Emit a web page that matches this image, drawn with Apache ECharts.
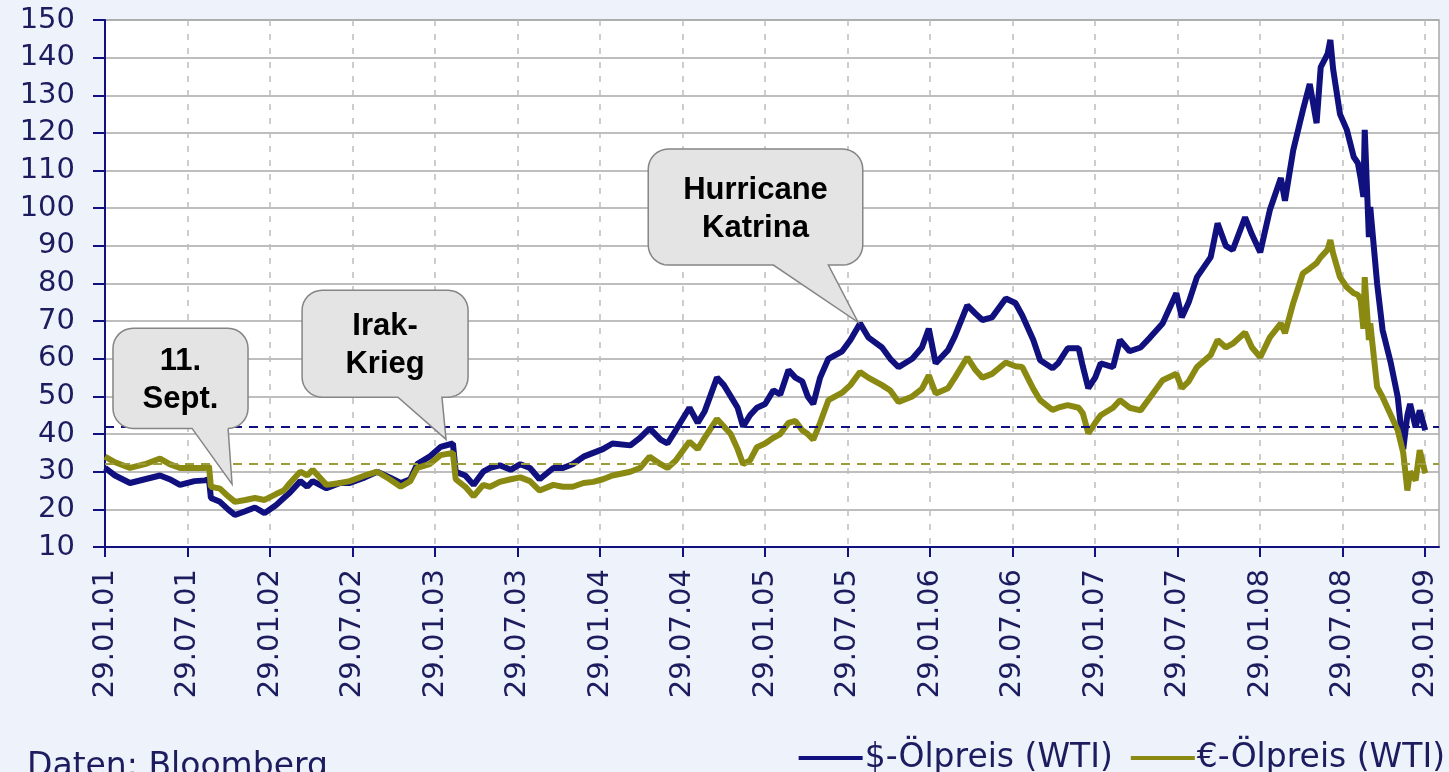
<!DOCTYPE html>
<html>
<head>
<meta charset="utf-8">
<title>Ölpreis WTI</title>
<script src="https://cdn.jsdelivr.net/npm/echarts@6/dist/echarts.min.js"></script>
<style>
  html, body { margin: 0; padding: 0; background: #eef2fa; }
  #chart { width: 1449px; height: 772px; }
</style>
</head>
<body>
<div id="chart"></div>
<script>
// x = Monate seit 29.01.2001
const monthIdx = [
  0, 0.73, 1.82, 2.9, 4.0, 4.7, 5.45, 6.5, 7.27, 7.56, 7.7, 8.36, 8.95, 9.45, 10.2, 10.9, 11.6, 12.4, 13.0, 13.45,
  14.2, 14.7, 15.1, 16.1, 17.1, 17.8, 18.9, 19.8, 20.7, 21.5, 22.2, 22.7, 23.6, 24.4, 25.3, 25.5, 26.2, 26.8, 27.5, 28.0,
  28.7, 29.5, 30.2, 30.9, 31.6, 32.6, 33.3, 34.0, 34.8, 35.5, 36.2, 36.9, 38.2, 38.9, 39.6, 40.4, 40.9, 41.5, 42.5, 43.1,
  43.6, 44.5, 45.0, 45.5, 46.0, 46.4, 46.9, 47.4, 48.0, 48.6, 49.1, 49.7, 50.2, 50.7, 51.1, 51.5, 52.0, 52.6, 53.6, 54.2,
  54.9, 55.5, 56.5, 57.1, 57.7, 58.7, 59.4, 59.9, 60.4, 61.3, 61.8, 62.7, 63.3, 63.8, 64.5, 65.5, 66.2, 66.7, 67.5, 68.0,
  68.9, 69.3, 70.0, 70.8, 71.1, 71.5, 72.0, 72.4, 73.3, 73.8, 74.5, 75.3, 76.0, 76.9, 77.9, 78.3, 78.8, 79.4, 80.4, 80.9,
  81.5, 82.0, 82.9, 83.4, 84.0, 84.7, 85.5, 85.8, 86.4, 87.1, 87.6, 88.1, 88.4, 88.9, 89.1, 89.3, 89.8, 90.3, 90.8, 91.1,
  91.3, 91.5, 91.6, 91.9, 92.0, 92.5, 92.9, 93.5, 94.0, 94.4, 94.7, 94.9, 95.3, 95.6, 96.0
];

const usdPrice = [
  31, 29, 27, 28, 29, 28, 26.5, 27.5, 27.7, 28, 23, 22, 20, 18.5, 19.5, 20.5, 19, 21, 23, 24.5,
  27.5, 26, 27.5, 25.6, 27, 27, 28.5, 30, 28.5, 27, 28, 32, 34, 36.6, 37.5, 30, 29, 26.5, 30, 31,
  31.7, 30.5, 32, 31, 28, 31, 31, 32, 34, 35, 36, 37.5, 37, 39, 41.5, 38.5, 37.5, 41, 47, 43,
  46, 55, 53, 50, 47, 42, 45, 47, 48, 51.6, 50.5, 57, 55, 54, 50, 48, 55, 60, 62, 65,
  69.4, 65.7, 63, 60, 57.8, 60, 63, 68, 58.8, 62.3, 66, 74.2, 72, 70.3, 71, 76, 74.8, 71.5, 65, 59.6,
  57.5, 58.8, 62.8, 62.8, 58, 52.2, 55, 58.8, 57.8, 65, 62, 63, 65.7, 69.4, 77.4, 71, 75, 81.7, 87, 96,
  90, 88.9, 97.6, 93, 88.3, 99.5, 108, 102, 115.4, 126, 133, 122.6, 137.5, 141, 144.7, 137, 125, 120.8, 113.6, 112,
  108, 103, 120.8, 92.3, 100.3, 80, 67.6, 58.8, 49.8, 36, 45, 48, 41.8, 46.3, 41
];

const eurPrice = [
  34, 32.5, 31, 32, 33.5, 32, 31, 31, 31, 31.5, 26, 25.5, 23.5, 22, 22.5, 23, 22.5, 24, 25, 27,
  30, 29, 30.5, 26.5, 27, 27.5, 29, 30, 28, 26, 27.5, 31, 32, 34.4, 35, 28, 26, 23.5, 26.5, 26,
  27.3, 28, 28.5, 27.5, 25, 26.5, 26, 26, 27, 27.3, 28, 29, 30, 31, 34, 32, 31, 33, 38, 36,
  39, 44, 42, 40, 36, 32, 33, 36.5, 37.5, 39, 40, 43, 43.5, 41, 40, 38.5, 43, 49, 51, 53,
  56.5, 55, 53, 51.6, 48.5, 50, 52, 55.6, 50.8, 52.2, 55, 60.4, 57, 55, 56, 59, 58, 57.8, 52, 49,
  46.4, 47, 47.7, 47, 45.5, 40.2, 43, 45, 47, 49, 47, 46.3, 49.8, 54.3, 56, 52.2, 54, 57.8, 61, 65,
  63, 64, 67, 63, 60.4, 65.7, 69.4, 66.8, 74.8, 82.7, 84, 85.4, 87, 89, 91.5, 88, 81.7, 79, 77.4, 77,
  75.6, 68, 81.7, 65, 69.4, 52.5, 49.8, 45, 41, 35, 25, 30, 27.7, 35.7, 29.6
];

const usdRef = 42;
const eurRef = 32;

const tickMonths = [0, 6, 12, 18, 24, 30, 36, 42, 48, 54, 60, 66, 72, 78, 84, 90, 96];
const seriesNames = ['$-Ölpreis (WTI)', '€-Ölpreis (WTI)'];

// box: [x links, x rechts, y oben, y unten], base: Ansatz des Zeigers, tip: Spitze
const callouts = [
  { text: '11.\nSept.', box: [0.58, 10.4, 68.1, 41.5], base: [6.33, 8.95], tip: [9.24, 26.7] },
  { text: 'Irak-\nKrieg', box: [14.33, 26.4, 78.2, 49.8], base: [21.3, 24.5], tip: [24.8, 38.6] },
  { text: 'Hurricane\nKatrina', box: [39.5, 55.1, 115.7, 84.9], base: [48.6, 52.6], tip: [54.76, 69.7] }
];

const navy = '#10107e';
const olive = '#8a8a12';
const labelColor = '#1c1c5e';

const pad2 = (n) => (n < 10 ? '0' : '') + n;
const fmtTick = (v) => {
  if (v % 6 !== 0) return '';
  return '29.' + (v % 12 === 0 ? '01' : '07') + '.' + pad2(Math.floor(v / 12) + 1);
};

const chart = echarts.init(document.getElementById('chart'));

const option = {
  animation: false,
  backgroundColor: '#eef2fa',
  title: {
    text: 'Daten: Bloomberg',
    left: 27,
    top: 749,
    padding: 0,
    textStyle: { fontFamily: 'DejaVu Sans', fontSize: 33, fontWeight: 'normal', color: labelColor, lineHeight: 36 }
  },
  legend: {
    data: seriesNames,
    right: 4,
    top: 740,
    padding: 0,
    icon: 'rect',
    itemWidth: 64,
    itemHeight: 4,
    itemGap: 18,
    textStyle: { fontFamily: 'DejaVu Sans', fontSize: 33, color: labelColor, lineHeight: 36, padding: [0, 0, 0, -3] }
  },
  grid: {
    left: 105,
    right: 10,
    top: 20,
    bottom: 225,
    show: true,
    backgroundColor: '#ffffff',
    borderColor: '#a8a8a8',
    borderWidth: 1.5
  },
  xAxis: {
    type: 'value',
    min: 0,
    max: 97,
    interval: 6,
    axisLine: { lineStyle: { color: navy, width: 2 } },
    axisTick: { length: 10, customValues: tickMonths, lineStyle: { color: navy, width: 2 } },
    axisLabel: {
      customValues: tickMonths,
      rotate: 90,
      margin: 22,
      fontFamily: 'DejaVu Sans',
      fontSize: 29,
      color: labelColor,
      formatter: fmtTick
    },
    splitLine: { show: true, lineStyle: { color: '#bdbdbd', width: 1.5, type: [6, 8] } }
  },
  yAxis: {
    type: 'value',
    min: 10,
    max: 150,
    interval: 10,
    axisLine: { show: true, lineStyle: { color: navy, width: 2 } },
    axisTick: { show: true, length: 12, lineStyle: { color: navy, width: 2 } },
    axisLabel: { margin: 30, fontFamily: 'DejaVu Sans', fontSize: 29, color: labelColor },
    splitLine: { show: true, lineStyle: { color: '#a8a8a8', width: 1.5 } }
  },
  series: [
    {
      name: seriesNames[0],
      type: 'line',
      data: monthIdx.map((m, i) => [m, usdPrice[i]]),
      showSymbol: false,
      color: navy,
      lineStyle: { width: 6, color: navy, join: 'bevel' },
      markLine: {
        silent: true,
        symbol: 'none',
        label: { show: false },
        lineStyle: { color: navy, width: 2, type: [9, 7] },
        data: [{ yAxis: usdRef }]
      }
    },
    {
      name: seriesNames[1],
      type: 'line',
      data: monthIdx.map((m, i) => [m, eurPrice[i]]),
      showSymbol: false,
      color: olive,
      lineStyle: { width: 6, color: olive, join: 'bevel' },
      markLine: {
        silent: true,
        symbol: 'none',
        label: { show: false },
        lineStyle: { color: '#9c9c3a', width: 2, type: [9, 7] },
        data: [{ yAxis: eurRef }]
      }
    }
  ]
};

chart.setOption(option);

// Sprechblasen, an Datenkoordinaten verankert
const toPx = (p) => chart.convertToPixel({ gridIndex: 0 }, p);

const arc = (pts, cx, cy, r, a0, a1) => {
  const n = 8;
  for (let k = 0; k <= n; k++) {
    const a = a0 + (a1 - a0) * k / n;
    pts.push([cx + r * Math.cos(a), cy + r * Math.sin(a)]);
  }
};

const graphics = [];
callouts.forEach((c) => {
  const tl = toPx([c.box[0], c.box[2]]);
  const br = toPx([c.box[1], c.box[3]]);
  const b0 = toPx([c.base[0], c.box[3]])[0];
  const b1 = toPx([c.base[1], c.box[3]])[0];
  const tip = toPx(c.tip);
  const x0 = tl[0], y0 = tl[1], x1 = br[0], y1 = br[1], r = 20;
  const pts = [];
  arc(pts, x1 - r, y0 + r, r, -Math.PI / 2, 0);
  arc(pts, x1 - r, y1 - r, r, 0, Math.PI / 2);
  pts.push([b1, y1], tip, [b0, y1]);
  arc(pts, x0 + r, y1 - r, r, Math.PI / 2, Math.PI);
  arc(pts, x0 + r, y0 + r, r, Math.PI, Math.PI * 1.5);
  graphics.push({
    type: 'polygon',
    z: 100,
    shape: { points: pts },
    style: { fill: '#e4e4e4', stroke: '#858585', lineWidth: 1.5 }
  });
  graphics.push({
    type: 'text',
    z: 101,
    x: (x0 + x1) / 2,
    y: (y0 + y1) / 2 + 2,
    style: {
      text: c.text,
      fontFamily: 'Liberation Sans',
      fontWeight: 'bold',
      fontSize: 31,
      lineHeight: 38,
      fill: '#000000',
      align: 'center',
      verticalAlign: 'middle'
    }
  });
});

chart.setOption({ graphic: graphics });
</script>
</body>
</html>
